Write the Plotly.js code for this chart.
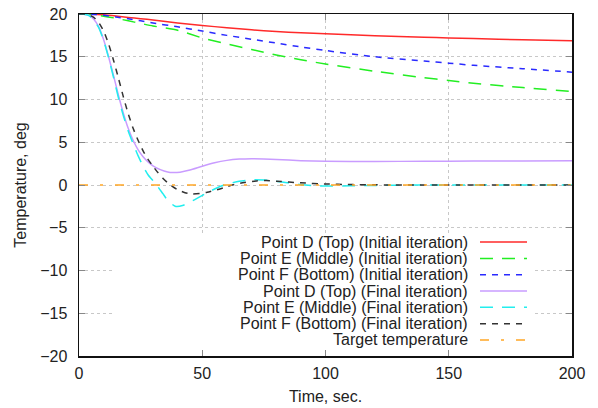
<!DOCTYPE html>
<html><head><meta charset="utf-8">
<script src="https://cdn.plot.ly/plotly-3.0.1.min.js"></script>
<style>html,body{margin:0;padding:0;background:#fff}#chart{width:598px;height:408px}</style>
</head><body><div id="chart"></div>
<script>
// Series names
const seriesNames = [
  "Point D (Top) (Initial iteration)",
  "Point E (Middle) (Initial iteration)",
  "Point F (Bottom) (Initial iteration)",
  "Point D (Top) (Final iteration)",
  "Point E (Middle) (Final iteration)",
  "Point F (Bottom) (Final iteration)",
  "Target temperature"
];
// Initial iteration
const tInit = [0,5,10,15,20,25,30,40,50,60,70,80,90,100,120,140,150,160,180,200];
const dInit = [20,19.98,19.9,19.76,19.6,19.45,19.3,18.95,18.65,18.4,18.15,17.95,17.8,17.68,17.45,17.28,17.2,17.12,16.98,16.86];
const eInit = [20,19.95,19.75,19.5,19.2,18.9,18.6,18.1,17.2,16.5,15.85,15.2,14.65,14.15,13.3,12.55,12.22,11.9,11.4,10.94];
const fInit = [20,19.98,19.85,19.65,19.45,19.2,18.95,18.5,18.0,17.5,17.05,16.6,16.15,15.73,15.0,14.5,14.25,14.0,13.6,13.2];
// Final iteration
const tD = [0,2,4,6,8,10,12,14,16,18,20,22,24,26,28,30,33,36,38,41,45,50,55,60,65,70,75,80,90,100,120,140,160,180,200];
const dFinal = [20,19.98,19.85,19.4,18.5,17.0,15.0,12.8,10.5,8.4,6.6,5.2,4.1,3.3,2.7,2.25,1.8,1.52,1.45,1.5,1.75,2.2,2.6,2.88,3.03,3.08,3.05,2.98,2.85,2.78,2.75,2.78,2.8,2.82,2.83];
const tE = [0,2,4,6,8,10,12,14,16,18,20,22,24,26,28,30,32,34,36,39,42,47,52,57,60,65,70,75,80,85,90,95,100,110,120,140,160,200];
const eFinal = [20,19.98,19.8,19.3,18.4,16.9,14.9,12.6,10.2,8.1,6.3,4.8,3.4,2.2,1.2,0.5,-0.2,-1.0,-1.8,-2.48,-2.4,-1.7,-0.9,-0.2,0.1,0.45,0.6,0.58,0.45,0.25,0.05,-0.08,-0.12,-0.1,-0.05,0,0,0];
const tF = [0,2,4,6,8,10,12,14,16,18,20,22,24,26,28,30,32,34,36,38,40,43,46,49,52,56,60,63,67,72,76,80,90,100,110,120,140,200];
const fFinal = [20,19.99,19.9,19.6,19.0,18.0,16.5,14.6,12.5,10.3,8.3,6.6,5.2,4.0,3.0,2.2,1.45,0.8,0.25,-0.2,-0.55,-0.9,-1.05,-1.0,-0.85,-0.55,-0.2,0.05,0.3,0.48,0.52,0.45,0.25,0.12,0.05,0.02,0,0];
const tTarget = [0,200];
const target = [0,0];

const colors = ["#ff2a2a","#22ee22","#2a2aff","#c99cff","#22eeee","#333333","#ffa726"];
const dashes = ["solid","13px,9px","6px,6px","solid","13px,9px","6px,6px","9px,12px,3px,12px"];
const xs = [tInit,tInit,tInit,tD,tE,tF,tTarget];
const ys = [dInit,eInit,fInit,dFinal,eFinal,fFinal,target];

const FONT = "Liberation Sans, Arial, sans-serif";
const traces = seriesNames.map((n,i)=>({
  x: xs[i], y: ys[i], name: n, type: "scatter", mode: "lines",
  line: {color: colors[i], width: 1.5, dash: dashes[i], shape: "spline", smoothing: 0.6},
  showlegend: false, hoverinfo: "skip"
}));

// custom legend (text on left, sample on right), paper coordinates
const L = 79, R = 572, T = 13.5, B = 355.7;
const px2x = p => (p - L) / (R - L);
const py2y = p => (B - p) / (B - T);
const shapes = [{type:"rect", xref:"paper", yref:"paper", x0:px2x(113), x1:px2x(535), y0:py2y(349), y1:py2y(233), fillcolor:"#ffffff", line:{width:0}, layer:"above"}];
const annotations = [];
seriesNames.forEach((n,i)=>{
  const yy = py2y(241.7 + i*16.33);
  annotations.push({xref:"paper", yref:"paper", x:px2x(470), y:yy, xanchor:"right", yanchor:"middle", text:n, showarrow:false, font:{family:FONT, size:16, color:"#222"}});
  shapes.push({type:"line", xref:"paper", yref:"paper", x0:px2x(480), x1:px2x(527), y0:yy, y1:yy, line:{color:colors[i], width:1.5, dash:dashes[i]}, layer:"above"});
});

const axisCommon = {
  showline: true, linecolor: "#111", linewidth: 1.5, mirror: "ticks",
  ticks: "inside", ticklen: 6, tickcolor: "#888", tickwidth: 1,
  showgrid: true, gridcolor: "#c8c8c8", griddash: "dot", gridwidth: 1,
  zeroline: false, tickfont: {family:FONT, size:16, color:"#222"}
};
const layout = {
  width: 598, height: 408,
  margin: {l: 79, r: 26, t: 13.5, b: 52.3},
  paper_bgcolor: "#fff", plot_bgcolor: "#fff",
  xaxis: Object.assign({}, axisCommon, {range:[0,200], tickvals:[0,50,100,150,200], ticklabelstandoff: 2,
    title:{text:"Time, sec.", standoff: 10, font:{family:FONT, size:16, color:"#222"}}}),
  yaxis: Object.assign({}, axisCommon, {range:[-20,20], tickvals:[-20,-15,-10,-5,0,5,10,15,20], ticklabelstandoff: 7,
    title:{text:"Temperature, deg", standoff: 9, font:{family:FONT, size:16, color:"#222"}}}),
  shapes: shapes, annotations: annotations, showlegend: false
};
Plotly.newPlot("chart", traces, layout, {staticPlot: true});
</script></body></html>
